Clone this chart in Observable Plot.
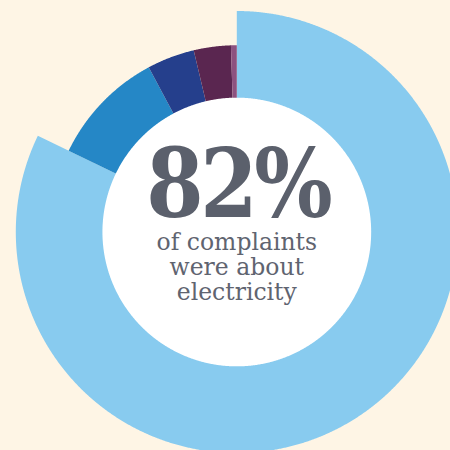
<!DOCTYPE html>
<html>
<head>
<meta charset="utf-8">
<script src="https://cdn.jsdelivr.net/npm/d3@7"></script>
<script src="https://cdn.jsdelivr.net/npm/@observablehq/plot@0.6"></script>
<style>
  html, body { margin: 0; padding: 0; background: #FEF5E5; }
  #chart svg { display: block; }
</style>
</head>
<body>
<div id="chart"></div>
<script>
// Share of complaints by sector (percent)
const sectors = ["Electricity", "Gas", "Water", "Telecoms", "Other"];
const shares = [82, 10, 4.1, 3.2, 0.5];
const colors = ["#88CBEF", "#2587C6", "#253F8C", "#5A2650", "#8D5280"];
const captionLines = ["of complaints", "were about", "electricity"];

// Layout (pixels): ring centre and the radius of the highlighted slice
const W = 450, H = 450, cx = 236.3, cy = 231.5, R = 221;
// Radii in units of R
const innerR = 0.608, outerR = 0.845, highlightR = 1;

// Angles clockwise from 12 o'clock
const arcs = d3.pie().sort(null).startAngle(0).endAngle(2 * Math.PI)(shares);

function ringPoints(key, t0, t1, r0, r1) {
  const n = Math.max(2, Math.ceil((t1 - t0) / (Math.PI / 720)));
  const pts = [];
  for (let i = 0; i <= n; i++) {
    const t = t0 + (t1 - t0) * i / n;
    pts.push({key, x: r1 * Math.sin(t), y: r1 * Math.cos(t)});
  }
  for (let i = n; i >= 0; i--) {
    const t = t0 + (t1 - t0) * i / n;
    pts.push({key, x: r0 * Math.sin(t), y: r0 * Math.cos(t)});
  }
  return pts;
}

const slicePoints = arcs.flatMap((a, i) =>
  ringPoints(sectors[i], a.startAngle, a.endAngle, innerR - 0.01, i === 0 ? highlightR : outerR)
);
const discPoints = d3.range(0, 1441).map(i => {
  const t = (i / 1440) * 2 * Math.PI;
  return {x: innerR * Math.sin(t), y: innerR * Math.cos(t)};
});

const headline = `${shares[0]}%`;
const textColor = "#5B606C";

const chart = Plot.plot({
  width: W,
  height: H,
  margin: 0,
  x: {domain: [-cx / R, (W - cx) / R], axis: null},
  y: {domain: [-(H - cy) / R, cy / R], axis: null},
  color: {domain: sectors, range: colors},
  style: {background: "#FEF5E5", overflow: "hidden"},
  marks: [
    Plot.line(slicePoints, {x: "x", y: "y", z: "key", fill: "key", stroke: "none", curve: "linear"}),
    Plot.line(discPoints, {x: "x", y: "y", fill: "white", stroke: "none", curve: "linear"}),
    Plot.text([headline], {
      x: 0, y: 0, text: d => d, dy: -15.5, dx: 1, lineAnchor: "bottom",
      fontFamily: "DejaVu Serif", fontWeight: "bold", fontSize: 96, fill: textColor
    }),
    Plot.text([captionLines.join("\n")], {
      x: 0, y: 0, text: d => d, dy: 68, lineAnchor: "bottom", lineHeight: 1.07,
      fontFamily: "DejaVu Serif", fontSize: 23.5, fill: "#5F6470"
    })
  ]
});

// Tighten the headline figure: narrower glyphs, closer spacing
const headlineText = d3.select(chart).selectAll('g[aria-label="text"]').filter((d, i) => i === 0).select("text");
headlineText
  .style("letter-spacing", "-4px")
  .attr("transform", (headlineText.attr("transform") || "") + " scale(0.86,1)");

document.getElementById("chart").appendChild(chart);
</script>
</body>
</html>
